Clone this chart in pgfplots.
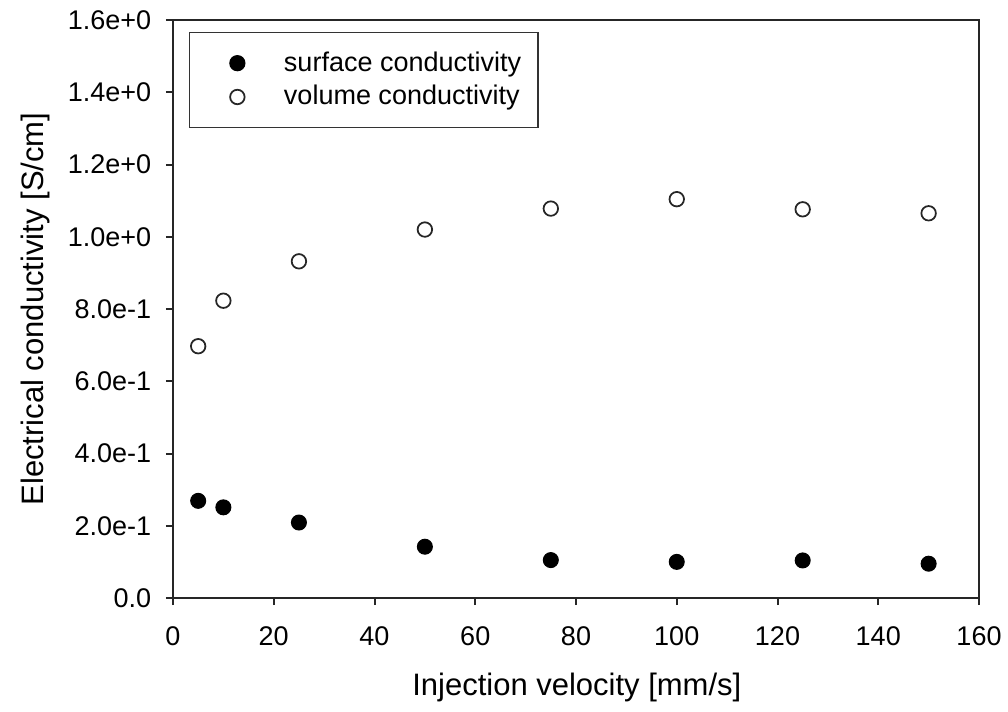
\documentclass[border=0pt]{standalone}
\usepackage{fontspec}
\setmainfont{Liberation Sans}
\usepackage{pgfplots}
\pgfplotsset{compat=1.18}

\begin{document}
\begin{tikzpicture}
\begin{axis}[
  at={(0pt,0pt)}, anchor=south west,
  scale only axis, width=322.4pt, height=231.2pt,
  xmin=0, xmax=160, ymin=0, ymax=1.6,
  xtick={0,20,...,160},
  ytick={0,0.2,0.4,0.6,0.8,1.0,1.2,1.4,1.6},
  yticklabels={0.0,2.0e-1,4.0e-1,6.0e-1,8.0e-1,1.0e+0,1.2e+0,1.4e+0,1.6e+0},
  /pgf/number format/assume math mode=true,
  tick align=outside, xtick pos=left, ytick pos=left,
  major tick length=2.8pt, minor tick num=0,
  axis line style={line width=0.8pt, black!85},
  major tick style={line width=0.8pt, black!85},
  tick label style={font=\fontsize{10.8}{13}\selectfont},
  xticklabel style={yshift=-5.2pt},
  yticklabel style={xshift=-2.4pt},
  label style={font=\fontsize{12.4}{15}\selectfont},
  xlabel={Injection velocity [mm/s]},
  ylabel={Electrical conductivity [S/cm]},
  xlabel style={at={(axis description cs:0.501,-0.154)}, anchor=center},
  ylabel style={at={(axis description cs:-0.1712,0.5)}, anchor=center},
  legend style={at={(axis description cs:0.02,0.979)}, anchor=north west,
    draw=black!80, line width=0.5pt, fill=white,
    inner xsep=6.8pt, inner ysep=7.5pt, row sep=4.2pt,
    nodes={inner sep=0pt, anchor=west},
    font=\fontsize{10.8}{13}\selectfont},
  legend cell align=left,
  legend image code/.code={\path (-12pt,0pt) (10pt,0pt);
    \draw[#1] plot coordinates {(0pt,0pt)};},
  /tikz/every odd column/.style={column sep=8.4pt},
]
\addplot[only marks, mark=*, mark size=3pt, black] coordinates {
  (5,0.269) (10,0.251) (25,0.209) (50,0.142)
  (75,0.105) (100,0.100) (125,0.104) (150,0.095)};
\addlegendentry{surface conductivity}
\addplot[only marks, mark=o, mark size=2.9pt, mark options={draw=black!85, fill=white, line width=0.7pt}] coordinates {
  (5,0.697) (10,0.823) (25,0.932) (50,1.020)
  (75,1.078) (100,1.104) (125,1.076) (150,1.065)};
\addlegendentry{volume conductivity}
\end{axis}
\pgfresetboundingbox
\path (-69.2pt,-45.2pt) rectangle (334pt,239.2pt);
\end{tikzpicture}
\end{document}
